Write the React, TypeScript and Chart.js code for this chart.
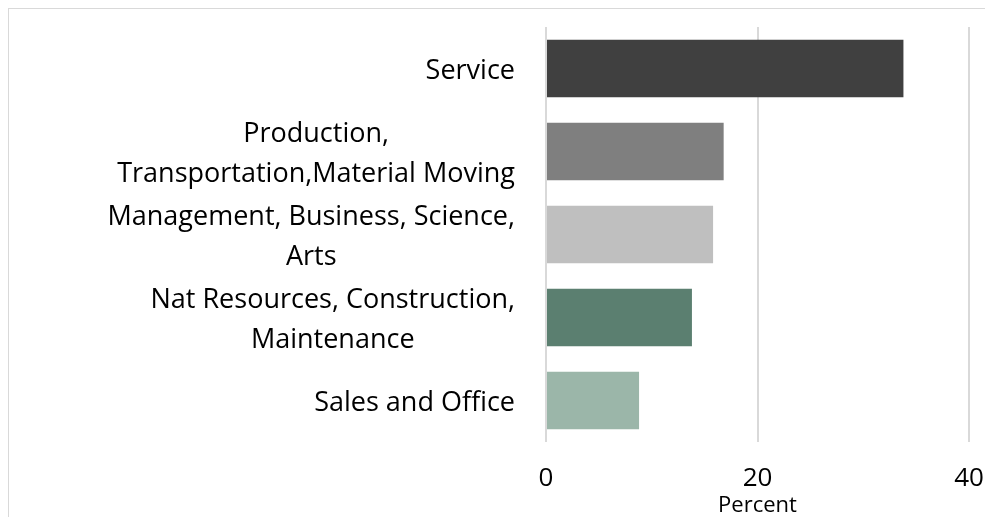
import React, { useEffect, useRef } from "react";
import { Chart, registerables } from "chart.js";

Chart.register(...registerables);

const categories: string[][] = [
  ["Service"],
  ["Production,", "Transportation,Material Moving"],
  ["Management, Business, Science,", "Arts"],
  ["Nat Resources, Construction,", "Maintenance"],
  ["Sales and Office"],
];
const values: number[] = [33.8, 16.8, 15.8, 13.8, 8.8];
const barColors: string[] = ["#404040", "#7f7f7f", "#bfbfbf", "#5b7f70", "#9bb6a9"];
const xTicks: number[] = [0, 20, 40];
const axisTitle = "Percent";

const FONT = '"Open Sans", sans-serif';

const yLabelPlugin = {
  id: "yLabels",
  afterDraw(chart: any) {
    const { ctx, chartArea } = chart;
    const yScale = chart.scales.y;
    ctx.save();
    ctx.font = `27px ${FONT}`;
    ctx.fillStyle = "#000";
    ctx.textBaseline = "middle";
    ctx.textAlign = "center";
    const right = chartArea.left - 31;
    categories.forEach((lines, i) => {
      const cy = yScale.getPixelForTick(i);
      const widest = Math.max(...lines.map((l) => ctx.measureText(l).width));
      const cx = right - widest / 2;
      lines.forEach((line, j) => {
        ctx.fillText(line, cx, cy + 3 + (j - (lines.length - 1) / 2) * 40);
      });
    });
    ctx.restore();
  },
};

export default function App() {
  const ref = useRef<HTMLCanvasElement | null>(null);
  useEffect(() => {
    if (!ref.current) return;
    const chart = new Chart(ref.current, {
      type: "bar",
      data: {
        labels: categories.map((l) => l.join(" ")),
        datasets: [
          {
            data: values,
            backgroundColor: barColors,
            barPercentage: 0.695,
            categoryPercentage: 1,
          },
        ],
      },
      options: {
        indexAxis: "y",
        responsive: false,
        animation: false,
        layout: { padding: { top: 18, right: 24, left: 0, bottom: 0 } },
        plugins: { legend: { display: false }, tooltip: { enabled: false } },
        scales: {
          x: {
            min: 0,
            max: 40,
            afterBuildTicks: (s: any) => {
              s.ticks = xTicks.map((v) => ({ value: v }));
            },
            grid: { color: "#d9d9d9", lineWidth: 2, drawTicks: false },
            border: { display: false },
            ticks: { font: { family: FONT, size: 26 }, color: "#000", padding: 21 },
            title: {
              display: true,
              text: axisTitle,
              font: { family: FONT, size: 22, lineHeight: 1.0 },
              color: "#000",
              padding: { top: 0, bottom: 0 },
            },
            afterFit: (s: any) => {
              s.height = 75;
              s.paddingRight = 0;
              s.paddingLeft = 0;
            },
          },
          y: {
            grid: { display: false },
            border: { display: false },
            ticks: { display: false },
            afterFit: (s: any) => {
              s.width = 537;
            },
          },
        },
      } as any,
      plugins: [yLabelPlugin],
    });
    return () => chart.destroy();
  }, []);
  return (
    <div
      style={{
        width: 984,
        height: 508,
        borderTop: "1px solid #d9d9d9",
        borderLeft: "1px solid #d9d9d9",
      }}
    >
      <canvas ref={ref} width={984} height={508} style={{ display: "block" }} />
    </div>
  );
}
